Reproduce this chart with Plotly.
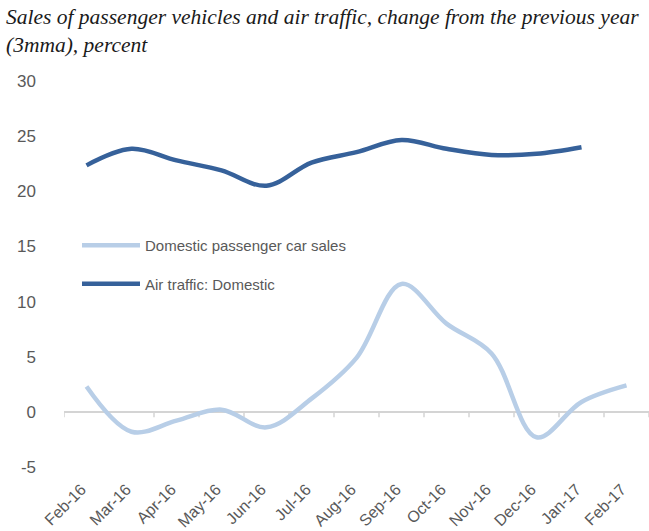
import plotly.graph_objects as go

months = ["Feb-16", "Mar-16", "Apr-16", "May-16", "Jun-16", "Jul-16", "Aug-16",
          "Sep-16", "Oct-16", "Nov-16", "Dec-16", "Jan-17", "Feb-17"]
car_sales = [2.3, -1.8, -0.8, 0.2, -1.4, 1.2, 4.9, 11.6, 8.0, 5.3, -2.3, 0.9, 2.4]
air_traffic = [22.35, 23.85, 22.8, 21.9, 20.5, 22.6, 23.55, 24.65, 23.85, 23.3, 23.4, 24.0]
y_ticks = [-5, 0, 5, 10, 15, 20, 25, 30]
y_tick_text = [str(v) for v in y_ticks]

LIGHT = "#B8CEE7"
DARK = "#36619A"
GRAY = "#595959"
AXIS = "#D4D4D4"

fig = go.Figure()
fig.add_trace(go.Scatter(x=months, y=car_sales, mode="lines", name="Domestic passenger car sales",
                         legendgroup="a",
                         line=dict(color=LIGHT, width=4.5, shape="spline", smoothing=1.0)))
fig.add_trace(go.Scatter(x=months[:len(air_traffic)], y=air_traffic, mode="lines",
                         name="Air traffic: Domestic", legendgroup="b",
                         line=dict(color=DARK, width=4.5, shape="spline", smoothing=1.0)))

n = len(months)
L, T, B = 64, 81, 64
PW, PH = 649 - L, 531 - T - B

# category-axis tick marks at the boundaries, drawn on the zero line
for i in range(n + 1):
    fig.add_shape(type="line", xref="x", yref="y", x0=i - 0.5, x1=i - 0.5, y0=0, y1=-0.5,
                  line=dict(color=AXIS, width=1.5), layer="below")

fig.update_layout(
    width=649, height=531,
    margin=dict(l=L, r=0, t=T, b=B, autoexpand=False),
    paper_bgcolor="white", plot_bgcolor="white",
    font=dict(family="Liberation Sans, Arial, sans-serif", color=GRAY),
    xaxis=dict(type="category", categoryorder="array", categoryarray=months, range=[-0.5, n - 0.5],
               showline=False, showgrid=False, zeroline=False, ticks="", tickangle=-45,
               ticklabelstandoff=9, ticklabelshift=-5,
               automargin=False, tickfont=dict(size=16, color=GRAY)),
    yaxis=dict(range=[-5, 30], tickvals=y_ticks, ticktext=y_tick_text, showgrid=False,
               zeroline=True, zerolinecolor=AXIS, zerolinewidth=1.5, showline=False,
               automargin=False, ticks="", ticklabelstandoff=27,
               tickfont=dict(size=17, color=GRAY)),
    legend=dict(x=(82 - 5 - L) / PW, y=1 - (229 - T) / PH, xanchor="left", yanchor="top",
                bgcolor="rgba(0,0,0,0)", font=dict(size=15, color=GRAY), itemwidth=58,
                tracegroupgap=16),
    showlegend=True,
)
fig.add_annotation(
    text="<i>Sales of passenger vehicles and air traffic, change from the previous year<br>(3mma), percent</i>",
    xref="paper", yref="paper", x=-(L - 4) / PW, y=1 + (T - 3) / PH, xanchor="left", yanchor="top",
    align="left", showarrow=False,
    font=dict(family="Liberation Serif, Times New Roman, serif", size=21.5, color="#1a1a1a"))
fig.write_html("out.html", config={"displayModeBar": False},
               post_script="document.body.style.margin='0px';")
